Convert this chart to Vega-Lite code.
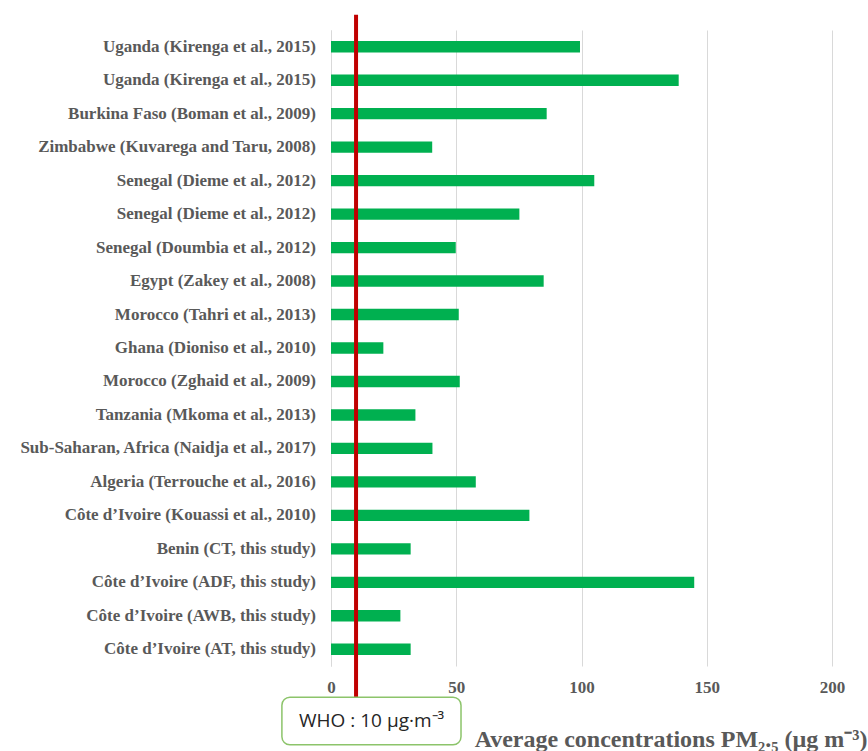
{
  "$schema": "https://vega.github.io/schema/vega-lite/v6.json",
  "width": 501,
  "height": 636,
  "autosize": {"type": "none"},
  "padding": {"left": 331, "top": 30, "right": 36, "bottom": 85},
  "background": "white",
  "config": {"view": {"stroke": null}},
  "datasets": {
    "studies": [
      {"rank": 1, "study": "Uganda (Kirenga et al., 2015)", "pm25": 99.4},
      {"rank": 2, "study": "Uganda (Kirenga et al., 2015)", "pm25": 138.8},
      {"rank": 3, "study": "Burkina Faso (Boman et al., 2009)", "pm25": 86.1},
      {"rank": 4, "study": "Zimbabwe (Kuvarega and Taru, 2008)", "pm25": 40.4},
      {"rank": 5, "study": "Senegal (Dieme et al., 2012)", "pm25": 105.1},
      {"rank": 6, "study": "Senegal (Dieme et al., 2012)", "pm25": 75.2},
      {"rank": 7, "study": "Senegal (Doumbia et al., 2012)", "pm25": 49.8},
      {"rank": 8, "study": "Egypt (Zakey et al., 2008)", "pm25": 84.9},
      {"rank": 9, "study": "Morocco (Tahri et al., 2013)", "pm25": 51.0},
      {"rank": 10, "study": "Ghana (Dioniso et al., 2010)", "pm25": 20.9},
      {"rank": 11, "study": "Morocco (Zghaid et al., 2009)", "pm25": 51.4},
      {"rank": 12, "study": "Tanzania (Mkoma et al., 2013)", "pm25": 33.7},
      {"rank": 13, "study": "Sub-Saharan, Africa (Naidja et al., 2017)", "pm25": 40.5},
      {"rank": 14, "study": "Algeria (Terrouche et al., 2016)", "pm25": 57.8},
      {"rank": 15, "study": "Côte d’Ivoire (Kouassi et al., 2010)", "pm25": 79.2},
      {"rank": 16, "study": "Benin (CT, this study)", "pm25": 31.8},
      {"rank": 17, "study": "Côte d’Ivoire (ADF, this study)", "pm25": 145.0},
      {"rank": 18, "study": "Côte d’Ivoire (AWB, this study)", "pm25": 27.7},
      {"rank": 19, "study": "Côte d’Ivoire (AT, this study)", "pm25": 31.8}
    ],
    "guideline": [
      {"who": 10, "label": "WHO : 10 µg·m⁻³"}
    ]
  },
  "layer": [
    {
      "data": {"name": "studies"},
      "encoding": {
        "y": {
          "field": "rank",
          "type": "ordinal",
          "sort": null,
          "scale": {"paddingInner": 0.66, "paddingOuter": 0.33},
          "axis": {
            "labels": false,
            "ticks": false,
            "grid": false,
            "title": null,
            "domain": true,
            "domainColor": "#d9d9d9",
            "domainWidth": 1
          }
        }
      },
      "layer": [
        {
          "mark": {"type": "bar", "color": "#00b050"},
          "encoding": {
            "x": {
              "field": "pm25",
              "type": "quantitative",
              "scale": {"domain": [0, 200], "nice": false, "zero": true},
              "axis": {
                "values": [0, 50, 100, 150, 200],
                "grid": true,
                "gridColor": "#d9d9d9",
                "gridWidth": 1,
                "domain": false,
                "ticks": false,
                "labelFlush": false,
                "labelFont": "Liberation Serif",
                "labelFontWeight": "bold",
                "labelFontSize": 17,
                "labelColor": "#595959",
                "labelPadding": 13,
                "title": "Average  concentrations  PM₂.₅ (µg m⁻³)",
                "titleFont": "Liberation Serif",
                "titleFontWeight": "bold",
                "titleFontSize": 24,
                "titleColor": "#595959",
                "titleAnchor": "end",
                "titleAlign": "right",
                "titleBaseline": "alphabetic",
                "titleX": 536,
                "titleY": 80
              }
            }
          }
        },
        {
          "mark": {
            "type": "text",
            "align": "right",
            "baseline": "middle",
            "dx": -15,
            "font": "Liberation Serif",
            "fontWeight": "bold",
            "fontSize": 17,
            "color": "#595959"
          },
          "encoding": {
            "x": {"datum": 0, "type": "quantitative", "scale": {"domain": [0, 200], "nice": false}},
            "text": {"field": "study"}
          }
        }
      ]
    },
    {
      "data": {"name": "guideline"},
      "layer": [
        {
          "mark": {"type": "rule", "color": "#c00000", "strokeWidth": 4},
          "encoding": {
            "x": {"field": "who", "type": "quantitative", "scale": {"domain": [0, 200], "nice": false}},
            "y": {"datum": 102.4, "type": "quantitative", "scale": {"domain": [0, 100], "nice": false, "zero": false}, "axis": null},
            "y2": {"datum": -4.9}
          }
        },
        {
          "mark": {"type": "rect", "fill": "white", "stroke": "#8cc46a", "strokeWidth": 1.5, "cornerRadius": 8},
          "encoding": {
            "x": {"datum": -19.6, "type": "quantitative", "scale": {"domain": [0, 200], "nice": false}},
            "x2": {"datum": 51.9},
            "y": {"datum": -4.9, "type": "quantitative", "scale": {"domain": [0, 100], "nice": false, "zero": false}, "axis": null},
            "y2": {"datum": -12.4}
          }
        },
        {
          "mark": {"type": "text", "align": "center", "baseline": "middle", "font": "Open Sans", "fontSize": 19, "color": "#262626"},
          "encoding": {
            "x": {"datum": 16.2, "type": "quantitative", "scale": {"domain": [0, 200], "nice": false}},
            "y": {"datum": -8.65, "type": "quantitative", "scale": {"domain": [0, 100], "nice": false, "zero": false}, "axis": null},
            "text": {"field": "label"}
          }
        }
      ]
    }
  ],
  "resolve": {"scale": {"y": "independent"}, "axis": {"y": "independent"}}
}
